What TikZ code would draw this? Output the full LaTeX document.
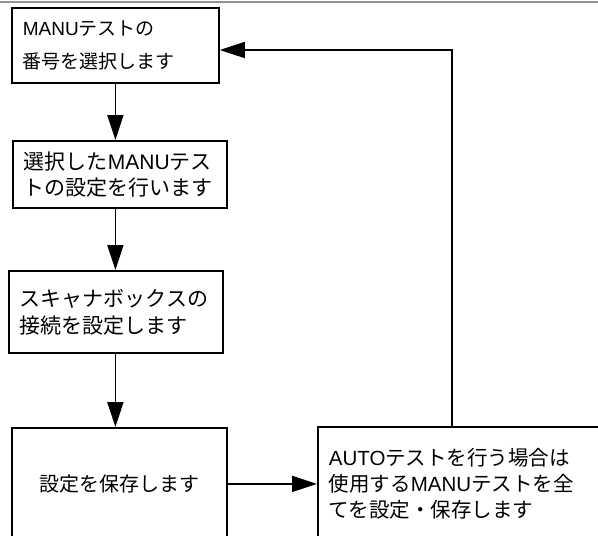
\documentclass[tikz,border=0pt]{standalone}
\usepackage{fontspec}
\setmainfont{Noto Sans CJK JP}
\newfontfamily\latinfont{Liberation Sans}
\newcommand{\en}[1]{{\latinfont #1}}
\usetikzlibrary{arrows.meta}

\begin{document}
\begin{tikzpicture}[x=1pt,y=-1pt,->,>={Triangle[length=25pt,width=16pt]},
    line width=1.8pt,
    box/.style={draw,rectangle,anchor=north west,inner xsep=11pt,inner ysep=0pt,
      align=left,font=\fontsize{20.5}{26}\selectfont}]

  \useasboundingbox (0,0) rectangle (598,536);
  \draw[-,gray!85,line width=2pt] (0,2) -- (598,2);

  % Steps
  \node[box,minimum width=207pt,minimum height=75pt,text width=185pt,
    font=\fontsize{19}{33}\selectfont] (num) at (11,7) {\en{MANU}テストの\\番号を選択します};
  \node[box,minimum width=214pt,minimum height=67pt,text width=192pt,
    font=\fontsize{21}{26}\selectfont] (setup) at (12,140)
    {選択した\en{MANU}テス\\トの設定を行います};
  \node[box,minimum width=214pt,minimum height=82pt,text width=192pt,
    font=\fontsize{21}{27}\selectfont] (scan) at (8,270)
    {スキャナボックスの\\接続を設定します};
  \node[box,minimum width=215pt,minimum height=112pt,text width=193pt,align=center,
    font=\fontsize{20}{26}\selectfont] (save) at (11,427)
    {設定を保存します};
  \node[box,minimum width=298pt,minimum height=114pt,text width=276pt] (auto) at (317,426)
    {\en{AUTO}テストを行う場合は\\使用する\en{MANU}テストを全\\てを設定・保存します};
  \coordinate (turn) at (452,50);

  % Flow
  \draw (num.south) -- (num.south |- setup.north);
  \draw (setup.south -| num.south) -- (scan.north -| num.south);
  \draw (scan.south -| num.south) -- (save.north -| num.south);
  \draw (save.east) -- (save.east -| auto.west);

  % Back to the start
  \draw (turn |- auto.north) -- (turn) -- (turn -| num.east);

\end{tikzpicture}
\end{document}
